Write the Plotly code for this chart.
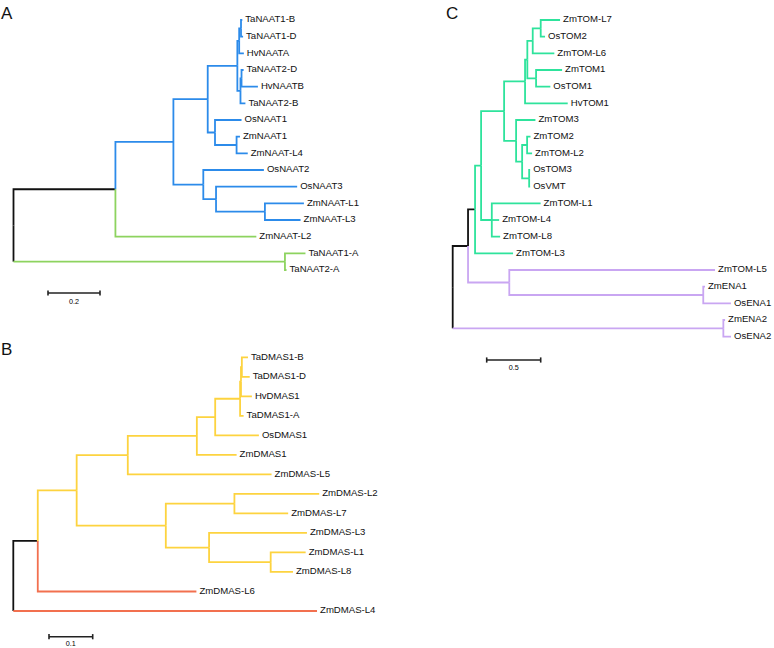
import plotly.graph_objects as go

# ---------------- data: trees (Newick, branch lengths) ----------------
TREE_A = ("(((((((TaNAAT1-B:0.005,TaNAAT1-D:0.008):0.007,HvNAATA:0.018):0.007,"
          "((TaNAAT2-D:0.008,HvNAATB:0.063):0.004,TaNAAT2-B:0.019):0.012):0.114,"
          "(OsNAAT1:0.102,(ZmNAAT1:0.013,ZmNAAT-L4:0.043):0.083):0.028):0.132,"
          "(OsNAAT2:0.233,(OsNAAT3:0.312,(ZmNAAT-L1:0.150,ZmNAAT-L3:0.137):0.188):0.049):0.115)A_blue:0.223,"
          "ZmNAAT-L2:0.542)A_in:0.392,"
          "(TaNAAT1-A:0.079,TaNAAT2-A:0.006)A_out:1.044)A_root;")

TREE_B = ("(((((((((TaDMAS1-B:0.014,TaDMAS1-D:0.018):0.002,HvDMAS1:0.025):0.002,TaDMAS1-A:0.008):0.057,"
          "OsDMAS1:0.100):0.042,ZmDMAS1:0.091):0.158,ZmDMAS-L5:0.329):0.117,"
          "((ZmDMAS-L2:0.194,ZmDMAS-L7:0.123):0.157,(ZmDMAS-L3:0.224,(ZmDMAS-L1:0.080,ZmDMAS-L8:0.051):0.141):0.099):0.204)B_yellow:0.089,"
          "ZmDMAS-L6:0.363)B_in:0.056,ZmDMAS-L4:0.695)B_root;")

TREE_C = ("(((((((((ZmTOM-L7:0.179,OsTOM2:0.040):0.074,ZmTOM-L6:0.200):0.050,(ZmTOM1:0.241,OsTOM1:0.132):0.081):0.021,"
          "HvTOM1:0.395):0.194,(ZmTOM3:0.179,((ZmTOM2:0.031,ZmTOM-L2:0.046):0.046,(OsTOM3:0.009,OsVMT:0.009):0.065):0.056):0.111):0.213,"
          "(ZmTOM-L1:0.452,ZmTOM-L4:0.068,ZmTOM-L8:0.077):0.099):0.056,ZmTOM-L3:0.352)C_green:0.065,"
          "(ZmTOM-L5:1.905,(ZmENA1:0.016,OsENA1:0.256):1.796)C_purple:0.382)C_in:0.142,"
          "(ZmENA2:0.016,OsENA2:0.071)C_ena2:2.506)C_root;")

PANEL_LETTERS = ["A", "B", "C"]
SCALE_LENGTHS = [0.2, 0.1, 0.5]
SCALE_LABELS = ["0.2", "0.1", "0.5"]

# ---------------- styles ----------------
BLACK = "#111111"
BLUE = "#2C8BEA"
LGREEN = "#8DD35F"
YELLOW = "#FDD33F"
RED = "#F2704F"
MINT = "#2EE39C"
PURPLE = "#C9A6F2"

CLADE_COLORS = [
    {"A_root": BLACK, "A_in": BLACK, "A_blue": BLUE, "ZmNAAT-L2": LGREEN, "A_out": LGREEN},
    {"B_root": BLACK, "B_in": BLACK, "B_yellow": YELLOW, "ZmDMAS-L6": RED, "ZmDMAS-L4": RED},
    {"C_root": BLACK, "C_in": BLACK, "C_green": MINT, "C_purple": PURPLE, "C_ena2": PURPLE},
]
STEM_COLORS = [{}, {}, {"C_green": BLACK}]

W, H = 774, 648
FONT = "Liberation Sans, Arial, Helvetica, sans-serif"
LABEL_GAP_PX = 3.0
# pixel anchors for each panel: root x, px per unit, first leaf y, px per leaf, domain box
PANELS = [
    dict(x0=13.5, s=260.0, y0=20.0, d=16.667, bx=(0, 420), by=(0, 320),
         bar_px=48.0, bar_py=293.0, lab_py=302.0, letter=(-1.5, 14.0)),
    dict(x0=13.3, s=437.0, y0=357.3, d=19.515, bx=(0, 420), by=(320, 648),
         bar_px=49.0, bar_py=636.7, lab_py=643.8, letter=(-1.5, 349.5)),
    dict(x0=452.7, s=108.0, y0=20.0, d=16.668, bx=(430, 774), by=(0, 420),
         bar_px=486.7, bar_py=360.0, lab_py=368.5, letter=(444.0, 14.0)),
]
LW = 1.8


def parse_newick(s):
    s = s.strip().rstrip(";")
    pos = 0

    def node():
        nonlocal pos
        children = []
        if s[pos] == "(":
            pos += 1
            children.append(node())
            while s[pos] == ",":
                pos += 1
                children.append(node())
            pos += 1  # ')'
        start = pos
        while pos < len(s) and s[pos] not in ":,()":
            pos += 1
        name = s[start:pos]
        bl = 0.0
        if pos < len(s) and s[pos] == ":":
            pos += 1
            start = pos
            while pos < len(s) and s[pos] not in ",()":
                pos += 1
            bl = float(s[start:pos])
        return {"name": name, "bl": bl, "children": children}

    return node()


def place(tree):
    counter = [0]

    def rec(n, px):
        n["x"] = px + n["bl"]
        if not n["children"]:
            n["y"] = counter[0]
            counter[0] += 1
        else:
            for c in n["children"]:
                rec(c, n["x"])
            n["y"] = (n["children"][0]["y"] + n["children"][-1]["y"]) / 2.0
    tree["bl"] = 0.0
    rec(tree, 0.0)
    return tree


def collect(tree, colors, stems):
    segs = {}
    leaves = []

    def add(col, xs, ys):
        segs.setdefault(col, ([], []))
        segs[col][0].extend(xs + [None])
        segs[col][1].extend(ys + [None])

    root_col = colors.get(tree["name"], BLACK)

    def rec(n, col, is_root):
        if not n["children"]:
            leaves.append(n)
        for c in n["children"]:
            ccol = colors.get(c["name"], col)
            stem = stems.get(c["name"], ccol)
            vcol = root_col if is_root else stem
            if vcol == stem:
                add(stem, [n["x"], n["x"], c["x"]], [n["y"], c["y"], c["y"]])
            else:
                add(vcol, [n["x"], n["x"]], [n["y"], c["y"]])
                add(stem, [n["x"], c["x"]], [c["y"], c["y"]])
            rec(c, ccol, False)

    rec(tree, root_col, True)
    return segs, leaves


fig = go.Figure()
layout_axes = {}
annotations = []
for i, (tree_s, P) in enumerate(zip([TREE_A, TREE_B, TREE_C], PANELS)):
    k = "" if i == 0 else str(i + 1)
    xa, ya = "x" + k, "y" + k
    tree = place(parse_newick(tree_s))
    segs, leaves = collect(tree, CLADE_COLORS[i], STEM_COLORS[i])
    for col, (xs, ys) in segs.items():
        fig.add_trace(go.Scatter(x=xs, y=ys, mode="lines", xaxis=xa, yaxis=ya,
                                 line=dict(color=col, width=LW), hoverinfo="skip",
                                 cliponaxis=False))
    gap = LABEL_GAP_PX / P["s"]
    fig.add_trace(go.Scatter(x=[l["x"] + gap for l in leaves], y=[l["y"] for l in leaves],
                             text=[l["name"] for l in leaves], mode="text",
                             textposition="middle right", xaxis=xa, yaxis=ya,
                             textfont=dict(family=FONT, size=9.6, color="#111111"),
                             hoverinfo="skip", cliponaxis=False))
    # scale bar
    ux0 = (P["bar_px"] - P["x0"]) / P["s"]
    L = SCALE_LENGTHS[i]
    uy = (P["bar_py"] - P["y0"]) / P["d"]
    tick = 2.6 / P["d"]
    fig.add_trace(go.Scatter(x=[ux0, ux0 + L, None, ux0, ux0, None, ux0 + L, ux0 + L],
                             y=[uy, uy, None, uy - tick, uy + tick, None, uy - tick, uy + tick],
                             mode="lines", xaxis=xa, yaxis=ya,
                             line=dict(color="#222222", width=1.6), hoverinfo="skip",
                             cliponaxis=False))
    fig.add_trace(go.Scatter(x=[ux0 + L / 2], y=[(P["lab_py"] - P["y0"]) / P["d"]],
                             text=[SCALE_LABELS[i]], mode="text", textposition="middle center",
                             xaxis=xa, yaxis=ya, hoverinfo="skip", cliponaxis=False,
                             textfont=dict(family=FONT, size=7.2, color="#000000")))
    bx0, bx1 = P["bx"]
    by0, by1 = P["by"]
    layout_axes["xaxis" + k] = dict(domain=[bx0 / W, bx1 / W], anchor=ya, visible=False,
                                    range=[(bx0 - P["x0"]) / P["s"], (bx1 - P["x0"]) / P["s"]])
    layout_axes["yaxis" + k] = dict(domain=[1 - by1 / H, 1 - by0 / H], anchor=xa, visible=False,
                                    range=[(by1 - P["y0"]) / P["d"], (by0 - P["y0"]) / P["d"]])
    lx, ly = P["letter"]
    annotations.append(dict(text=PANEL_LETTERS[i], x=lx / W, y=1 - ly / H, xref="paper", yref="paper",
                            xanchor="left", yanchor="middle", showarrow=False,
                            font=dict(family=FONT, size=17, color="#111111")))

fig.update_layout(width=W, height=H, margin=dict(l=0, r=0, t=0, b=0),
                  paper_bgcolor="white", plot_bgcolor="rgba(0,0,0,0)", showlegend=False,
                  hovermode=False, annotations=annotations, **layout_axes)
fig.write_html("out.html", config={"displayModeBar": False},
               post_script="document.body.style.margin='0';document.body.style.overflow='hidden';")
